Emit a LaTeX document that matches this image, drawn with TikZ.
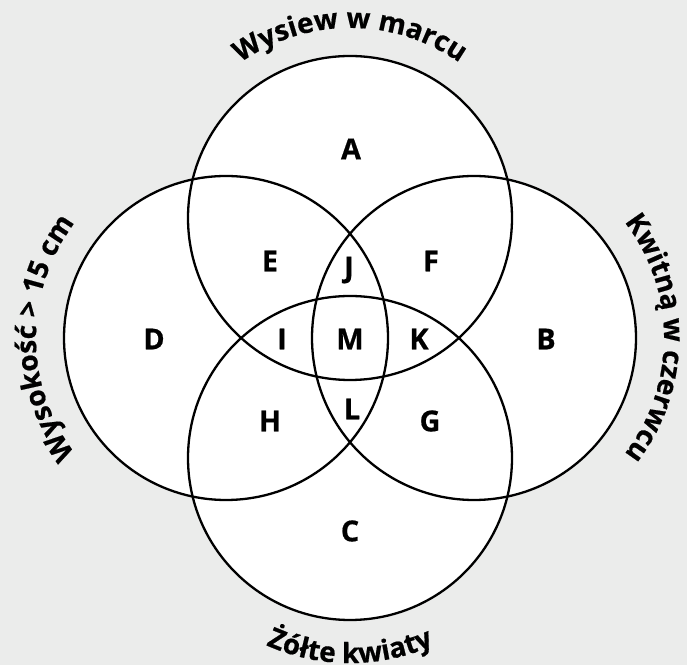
\documentclass[tikz,border=0pt]{standalone}
\usepackage{fontspec}
\setmainfont{Open Sans}[BoldFeatures={FakeBold=0.6}]
\usetikzlibrary{decorations.text}
\definecolor{bg}{RGB}{235,236,235}
\newcommand\arcfont{\fontsize{28}{28}\selectfont\bfseries}
\begin{document}
\begin{tikzpicture}[x=1bp,y=1bp,
  venn/.style={line width=2.3bp, draw=black},
  lab/.style={font=\fontsize{29}{29}\selectfont\bfseries, inner sep=0pt},
  arctext/.style={decorate, decoration={text along path, text align=center, text={|\arcfont|#1}}}]
\fill[bg] (0,0) rectangle (687,665);
\useasboundingbox (0,0) rectangle (687,665);
\coordinate (cT) at (350,447);
\coordinate (cB) at (350,207);
\coordinate (cL) at (226,327);
\coordinate (cR) at (474,327);
\foreach \c in {cT,cB,cL,cR} \fill[white] (\c) circle[radius=162];
\foreach \c in {cT,cB,cL,cR} \draw[venn] (\c) circle[radius=162];
% region labels
\node[lab] (A) at (351,516) {A};
\node[lab] (B) at (546,326) {B};
\node[lab] (C) at (350,134) {C};
\node[lab] (D) at (154,326) {D};
\node[lab] (E) at (270,404) {E};
\node[lab] (F) at (431,404) {F};
\node[lab] (G) at (430,244) {G};
\node[lab] (H) at (270,244) {H};
\node[lab] (I) at (282,326) {I};
\node[lab] (J) at (349,395) {J};
\node[lab] (K) at (419,326) {K};
\node[lab] (L) at (352,256) {L};
\node[lab] (M) at (350,326) {M};
% curved set names
\path[arctext={Wysiew w marcu}, shift={(cT)}] (170:190) arc[start angle=170, end angle=10, radius=190];
\path[arctext={Kwitną w czerwcu}, shift={(cR)}] (80:190) arc[start angle=80, end angle=-80, radius=190];
\path[arctext={Żółte kwiaty}, shift={(cB)}] (190:205) arc[start angle=190, end angle=350, radius=205];
\path[arctext={Wysokość > 15 cm}, shift={(cL)}] (260:190) arc[start angle=260, end angle=100, radius=190];
\end{tikzpicture}
\end{document}
